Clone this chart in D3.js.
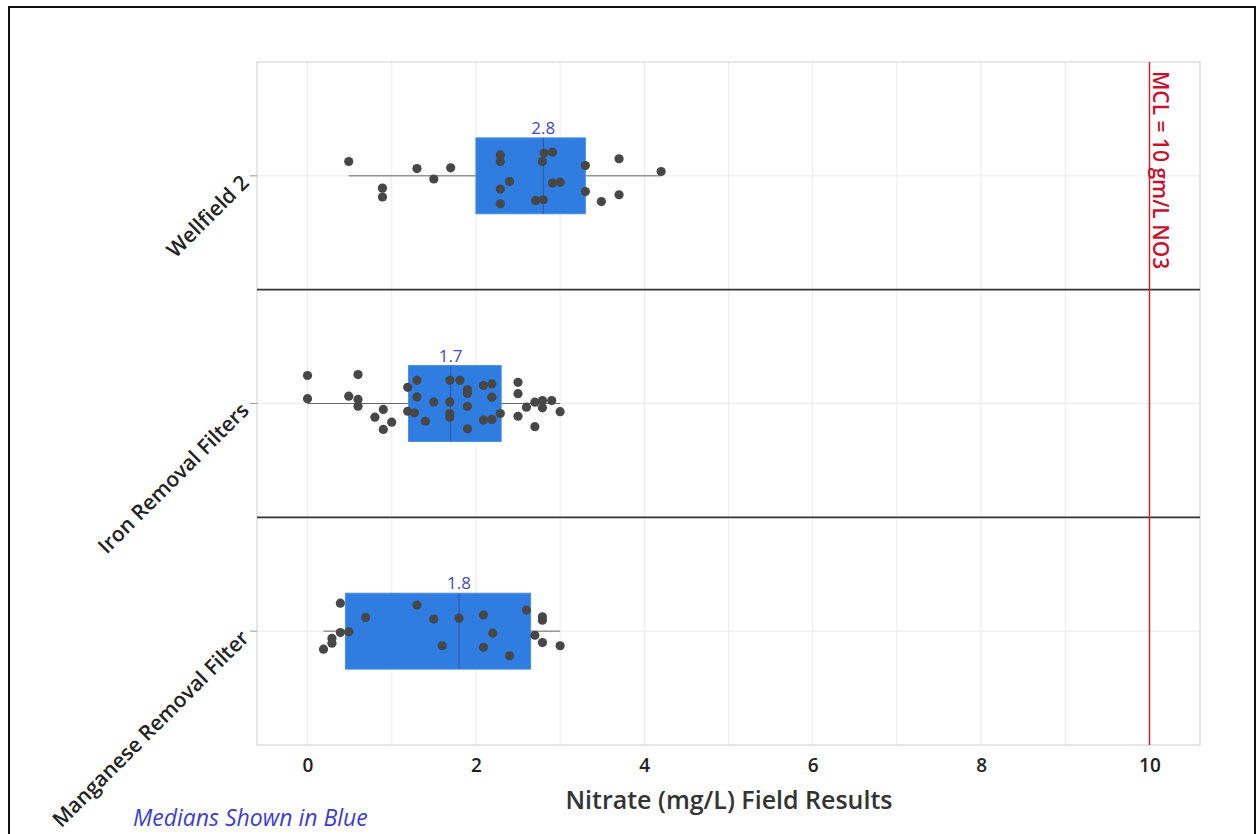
<!DOCTYPE html>
<html>
<head>
<meta charset="utf-8">
<script src="https://cdn.jsdelivr.net/npm/d3@7"></script>
<style>
  body { margin: 0; background: #fff; }
  text { font-family: "Open Sans", "Noto Sans", sans-serif; }
</style>
</head>
<body>
<div id="chart"></div>
<script>
// Groups, top to bottom
const categories = ["Wellfield 2", "Iron Removal Filters", "Manganese Removal Filter"];

// Box stats per group (mg/L)
const q1 = [2.0, 1.2, 0.45];
const medians = [2.8, 1.7, 1.8];
const q3 = [3.3, 2.3, 2.65];
const whiskerLow = [0.49, 0.0, 0.19];
const whiskerHigh = [4.2, 3.0, 3.0];

// Individual field results (value, jitter as fraction of the group band)
const wellfieldValues = [0.49, 1.30, 1.50, 1.70, 0.89, 0.89, 2.29, 2.29, 2.40, 2.29, 2.29, 2.81, 2.91, 2.79,
  2.91, 3.0, 2.71, 2.80, 3.30, 3.30, 3.49, 3.70, 3.70, 4.20];
const wellfieldJitter = [-0.063, -0.032, 0.014, -0.035, 0.054, 0.093, -0.092, -0.063, 0.025, 0.058, 0.123, -0.1, -0.104, -0.063,
  0.032, 0.028, 0.108, 0.105, -0.045, 0.069, 0.113, -0.075, 0.083, -0.019];

const ironValues = [0, 0, 0.6, 0.49, 0.6, 0.6, 0.9, 0.8, 1.0, 0.9, 1.19, 1.3, 1.3, 1.19, 1.27, 1.4, 1.5, 1.69, 1.81,
  1.69, 1.69, 1.69, 1.9, 1.9, 1.9, 1.9, 2.09, 2.19, 2.19, 2.09, 2.19, 2.29, 2.5, 2.5, 2.5, 2.6, 2.7, 2.79, 2.79,
  2.9, 3.0, 2.7];
const ironJitter = [-0.123, -0.021, -0.127, -0.032, -0.018, 0.012, 0.026, 0.06, 0.082, 0.114, -0.071, -0.102, -0.029,
  0.034, 0.041, 0.078, -0.007, -0.102, -0.102, -0.007, 0.044, 0.06, -0.061, -0.044, 0.012, 0.111, -0.079, -0.086,
  -0.028, 0.073, 0.07, 0.044, -0.093, -0.043, 0.056, 0.016, -0.006, -0.013, 0.019, -0.013, 0.036, 0.102];

const manganeseValues = [0.39, 0.69, 1.3, 1.5, 1.8, 2.09, 2.6, 2.79, 2.79, 0.39, 0.49, 0.29, 0.29, 0.19, 2.2, 2.7,
  2.79, 3.0, 1.6, 2.09, 2.4];
const manganeseJitter = [-0.123, -0.06, -0.115, -0.053, -0.057, -0.071, -0.093, -0.063, -0.048, 0.006, 0.003, 0.032,
  0.053, 0.079, 0.009, 0.018, 0.05, 0.064, 0.064, 0.071, 0.108];

const xTicks = [0, 2, 4, 6, 8, 10];
const mcl = 10;

const pointValues = [wellfieldValues, ironValues, manganeseValues];
const pointJitter = [wellfieldJitter, ironJitter, manganeseJitter];

const width = 1257, height = 834;
const plot = { left: 257, right: 1200, top: 62, bottom: 745 };

const svg = d3.select("#chart").append("svg")
  .attr("width", width)
  .attr("height", height);

// outer frame
svg.append("rect")
  .attr("x", 9).attr("y", 7)
  .attr("width", 1246).attr("height", 840)
  .attr("fill", "none")
  .attr("stroke", "#111")
  .attr("stroke-width", 2);

const x = d3.scaleLinear()
  .domain([-0.6, 10.6])
  .range([plot.left, plot.right]);

const y = d3.scaleBand()
  .domain(categories)
  .range([plot.top, plot.bottom]);

const band = y.bandwidth();

// grid
svg.append("g")
  .selectAll("line")
  .data(d3.range(0, 11))
  .join("line")
  .attr("x1", d => x(d)).attr("x2", d => x(d))
  .attr("y1", plot.top).attr("y2", plot.bottom)
  .attr("stroke", "#ececec");

svg.append("g")
  .selectAll("line")
  .data(categories)
  .join("line")
  .attr("x1", plot.left).attr("x2", plot.right)
  .attr("y1", d => y(d) + band / 2).attr("y2", d => y(d) + band / 2)
  .attr("stroke", "#ececec");

// plot border
svg.append("rect")
  .attr("x", plot.left).attr("y", plot.top)
  .attr("width", plot.right - plot.left).attr("height", plot.bottom - plot.top)
  .attr("fill", "none")
  .attr("stroke", "#cfcfcf");

// separators between groups
svg.append("g")
  .selectAll("line")
  .data(categories.slice(1))
  .join("line")
  .attr("x1", plot.left).attr("x2", plot.right)
  .attr("y1", d => y(d)).attr("y2", d => y(d))
  .attr("stroke", "#333")
  .attr("stroke-width", 1.6);

// x axis
const xAxis = svg.append("g")
  .attr("transform", `translate(0,${plot.bottom})`)
  .call(d3.axisBottom(x).tickValues(xTicks).tickSize(0).tickPadding(14));
xAxis.select(".domain").remove();
xAxis.selectAll("text")
  .attr("font-size", 19)
  .attr("font-weight", 600)
  .attr("fill", "#222")
  .style("font-family", "'Open Sans', sans-serif");

svg.append("text")
  .attr("x", 729).attr("y", 809)
  .attr("text-anchor", "middle")
  .attr("font-size", 25)
  .attr("font-weight", 600)
  .attr("fill", "#333")
  .text("Nitrate (mg/L) Field Results");

// y axis
const yAxis = svg.append("g")
  .attr("transform", `translate(${plot.left},0)`)
  .call(d3.axisLeft(y).tickSize(7));
yAxis.select(".domain").remove();
yAxis.selectAll(".tick line").attr("stroke", "#999");
yAxis.selectAll("text")
  .attr("x", 0).attr("y", 0)
  .attr("dy", "0.35em")
  .attr("transform", "translate(-12,3) rotate(-45)")
  .attr("text-anchor", "end")
  .attr("font-size", 21)
  .attr("font-weight", 600)
  .attr("fill", "#222")
  .style("font-family", "'Open Sans', sans-serif");

// boxes
const groups = svg.append("g")
  .selectAll("g")
  .data(categories)
  .join("g")
  .attr("transform", d => `translate(0,${y(d) + band / 2})`);

const boxH = band / 3;

groups.append("line")
  .attr("x1", (d, i) => x(whiskerLow[i]))
  .attr("x2", (d, i) => x(whiskerHigh[i]))
  .attr("stroke", "#666")
  .attr("stroke-width", 1);

groups.append("rect")
  .attr("x", (d, i) => x(q1[i]))
  .attr("width", (d, i) => x(q3[i]) - x(q1[i]))
  .attr("y", -boxH / 2)
  .attr("height", boxH)
  .attr("fill", "#2f7de1")
  .attr("stroke", "#4a8ee6")
  .attr("stroke-width", 1);

groups.append("line")
  .attr("x1", (d, i) => x(medians[i]))
  .attr("x2", (d, i) => x(medians[i]))
  .attr("y1", -boxH / 2).attr("y2", boxH / 2)
  .attr("stroke", "#35549a")
  .attr("stroke-width", 1);

groups.append("text")
  .attr("x", (d, i) => x(medians[i]))
  .attr("y", -boxH / 2 - 4)
  .attr("text-anchor", "middle")
  .attr("font-size", 17)
  .attr("fill", "#4646c8")
  .text((d, i) => medians[i].toFixed(1));

// points
groups.each(function (d, i) {
  const pts = pointValues[i].map((v, j) => ({ v: v, j: pointJitter[i][j] }));
  d3.select(this).selectAll("circle")
    .data(pts)
    .join("circle")
    .attr("cx", p => x(p.v))
    .attr("cy", p => p.j * band)
    .attr("r", 4.6)
    .attr("fill", "#474747");
});

// MCL line
svg.append("line")
  .attr("x1", x(mcl)).attr("x2", x(mcl))
  .attr("y1", plot.top).attr("y2", plot.bottom)
  .attr("stroke", "#d0202e")
  .attr("stroke-width", 1.5);

svg.append("text")
  .attr("transform", `translate(${x(mcl) + 4},71) rotate(90)`)
  .attr("font-size", 21)
  .attr("font-weight", 600)
  .attr("fill", "#c8102e")
  .text("MCL = 10 gm/L NO3");

svg.append("text")
  .attr("x", 133).attr("y", 826)
  .attr("font-size", 23)
  .attr("font-style", "italic")
  .attr("fill", "#3d3dd4")
  .text("Medians Shown in Blue");
</script>
</body>
</html>
